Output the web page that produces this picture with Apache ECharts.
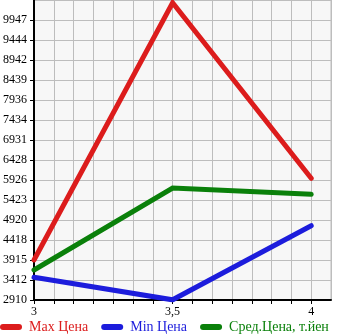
<!DOCTYPE html>
<html>
<head>
<meta charset="utf-8">
<script src="https://cdn.jsdelivr.net/npm/echarts@6/dist/echarts.min.js"></script>
<style>
html,body{margin:0;padding:0;background:#fff;}
#c{width:345px;height:335px;}
</style>
</head>
<body>
<div id="c"></div>
<script>
// Data
var xValues = [3, 3.5, 4];
var maxPrice = [3915, 10380, 5968];
var minPrice = [3480, 2915, 4777];
var avgPrice = [3664, 5725, 5566];
var seriesNames = ['Max Цена', 'Min Цена', 'Сред.Цена, т.йен'];
var yTickLabels = ['2910','3412','3915','4418','4920','5423','5926','6428','6931','7434','7936','8439','8942','9444','9947'];
var xTickLabels = {'3':'3', '3.5':'3,5', '4':'4'};

var yMin = 2909.6, yStep = 502.67;
var xMin = 3, xStep = 1/14;

var colors = ['#dc1c1c', '#1c1cdc', '#0a800a'];
var font = '"Liberation Serif", "Times New Roman", serif';

var chart = echarts.init(document.getElementById('c'));
function mk(vals){ return xValues.map(function(x,i){return [x, vals[i]];}); }
var legendIcon = 'path://M3,0 L19,0 A3,3 0 0 1 19,6 L3,6 A3,3 0 0 1 3,0 Z';
chart.setOption({
  animation: false,
  grid: {left: 31, right: 14, top: 0, bottom: 35, show: true, backgroundColor: '#f7f7f7', borderColor: '#bdbdbd', borderWidth: 1},
  xAxis: {
    type: 'value', min: xMin, max: xMin + 15*xStep, interval: xStep,
    axisLine: {lineStyle: {color: '#000', width: 2}},
    axisTick: {show: true, length: 4, lineStyle: {color: '#000', width: 1}},
    splitLine: {show: true, lineStyle: {color: '#bdbdbd', width: 1}},
    axisLabel: {
      color: '#000', fontFamily: font, fontSize: 12, margin: 6, showMaxLabel: false,
      formatter: function(v){
        var r = Math.round(v*2)/2;
        if (Math.abs(v - r) < 1e-6) { var l = xTickLabels[String(r)]; return l || ''; }
        return '';
      }
    }
  },
  yAxis: {
    type: 'value', min: yMin, max: yMin + 15*yStep, interval: yStep,
    axisLine: {show: true, lineStyle: {color: '#000', width: 2}},
    axisTick: {show: true, length: 4, lineStyle: {color: '#000', width: 1}},
    splitLine: {show: true, lineStyle: {color: '#bdbdbd', width: 1}},
    axisLabel: {
      color: '#000', fontFamily: font, fontSize: 12, margin: 7, showMaxLabel: false,
      formatter: function(v, i){ return yTickLabels[i] || ''; }
    }
  },
  legend: {
    top: 320, left: 0, padding: 0, itemGap: 13, itemWidth: 22, itemHeight: 6,
    textStyle: {fontFamily: font, fontSize: 14, padding: [0, 0, 0, 2]},
    data: seriesNames.map(function(n,i){return {name: n, icon: legendIcon, textStyle: {color: colors[i], padding: [0, 0, 0, 2]}};})
  },
  series: [
    {name: seriesNames[0], type: 'line', data: mk(maxPrice), showSymbol: false, symbol: 'none', lineStyle: {width: 5, color: colors[0], join: 'miter', cap: 'round'}, itemStyle: {color: colors[0]}},
    {name: seriesNames[1], type: 'line', data: mk(minPrice), showSymbol: false, symbol: 'none', lineStyle: {width: 5, color: colors[1], join: 'miter', cap: 'round'}, itemStyle: {color: colors[1]}},
    {name: seriesNames[2], type: 'line', data: mk(avgPrice), showSymbol: false, symbol: 'none', lineStyle: {width: 5, color: colors[2], join: 'miter', cap: 'round'}, itemStyle: {color: colors[2]}}
  ]
});
</script>
</body>
</html>
